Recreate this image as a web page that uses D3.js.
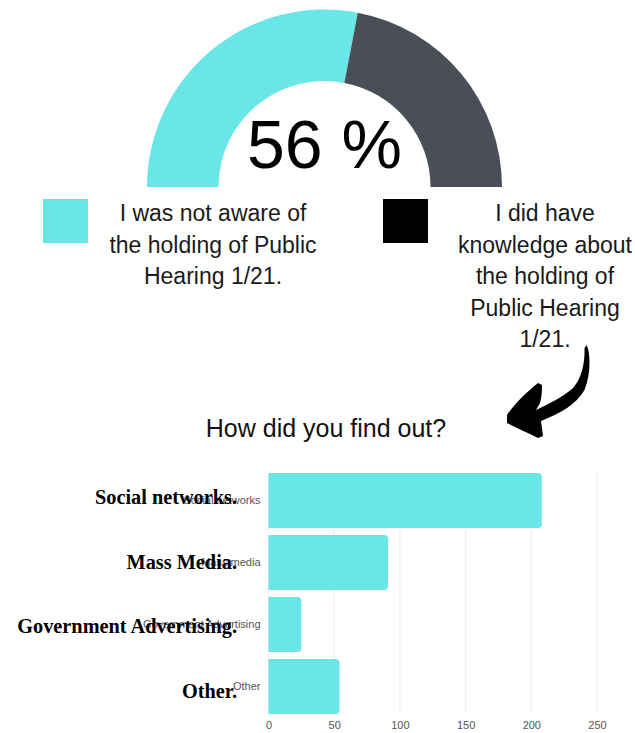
<!DOCTYPE html>
<html>
<head>
<meta charset="utf-8">
<script src="https://cdn.jsdelivr.net/npm/d3@7"></script>
<style>
  html, body { margin: 0; padding: 0; background: #ffffff; }
  svg { display: block; }
</style>
</head>
<body>
<svg id="chart" width="635" height="733"></svg>
<script>
// Gauge: share of respondents who did / did not know about the hearing
const gaugeKeys = ["unaware", "aware"];
const gaugeValues = [56, 44];
const gaugeText = "56 %";
const legendTexts = [
  ["I was not aware of", "the holding of Public", "Hearing 1/21."],
  ["I did have", "knowledge about", "the holding of", "Public Hearing", "1/21."]
];

// Bar chart: how the informed respondents found out
const chartTitle = "How did you find out?";
const categories = ["Social networks", "Mass media", "Government Advertising", "Other"];
const counts = [208, 91, 25, 54];
const captions = ["Social networks.", "Mass Media.", "Government Advertising.", "Other."];
const xTicks = [0, 50, 100, 150, 200, 250];

const CYAN = "#6be6e8";
const DARK = "#4a4f57";

const svg = d3.select("#chart");

// ---- half-donut gauge ----
const gauge = svg.append("g").attr("transform", "translate(324.5,187)");
const pie = d3.pie().sort(null).startAngle(-Math.PI / 2).endAngle(Math.PI / 2);
const arc = d3.arc().innerRadius(106).outerRadius(177.5);
const gaugeColor = d3.scaleOrdinal().domain(gaugeKeys).range([CYAN, DARK]);
gauge.selectAll("path")
  .data(pie(gaugeValues))
  .join("path")
  .attr("d", arc)
  .attr("fill", (d, i) => gaugeColor(gaugeKeys[i]));
gauge.append("text")
  .attr("x", 0).attr("y", -19)
  .attr("text-anchor", "middle")
  .attr("font-family", "'Liberation Sans', Arial, sans-serif")
  .attr("font-size", 68)
  .attr("fill", "#000")
  .text(gaugeText);

// ---- legend ----
const legendSwatch = ["#6be6e8", "#000000"];
const legendItems = svg.selectAll("g.legend")
  .data(legendTexts)
  .join("g")
  .attr("class", "legend")
  .attr("transform", (d, i) => `translate(${i === 0 ? 43 : 383},199)`);
legendItems.append("rect")
  .attr("width", 45).attr("height", 44)
  .attr("fill", (d, i) => legendSwatch[i]);
legendItems.append("text")
  .attr("text-anchor", "middle")
  .attr("font-family", "'Liberation Sans', Arial, sans-serif")
  .attr("font-size", 23)
  .attr("fill", "#1a1a1a")
  .selectAll("tspan")
  .data(d => d)
  .join("tspan")
  .attr("x", function () { return d3.select(this.parentNode).datum() === legendTexts[0] ? 170 : 162; })
  .attr("y", (d, i) => 22 + i * 31.5)
  .text(d => d);

// ---- curved arrow pointing at the question ----
svg.append("path")
  .attr("d", "M586.7,345 C591,355 590.5,375 584.5,390 C576,405 560,413 541,421 L543,436 L538,438 C528,433 516,428 507,423 L507,415 C515,403 528,391 538,383 L542,385 C542,390 542,396 540,403 L536,410 C548,404 562,398 573,388 C582,378 585,362 584.5,348 Z")
  .attr("fill", "#000");

// ---- title ----
svg.append("text")
  .attr("x", 326).attr("y", 437)
  .attr("text-anchor", "middle")
  .attr("font-family", "'Liberation Sans', Arial, sans-serif")
  .attr("font-size", 25)
  .attr("fill", "#111")
  .text(chartTitle);

// ---- horizontal bar chart ----
const x = d3.scaleLinear().domain([0, 250]).range([268.5, 597]);
const y = d3.scaleBand().domain(categories).range([473, 714]).paddingInner(0.113);

// grid
svg.append("g")
  .selectAll("line")
  .data(xTicks)
  .join("line")
  .attr("x1", d => x(d)).attr("x2", d => x(d))
  .attr("y1", 473).attr("y2", 714)
  .attr("stroke", "#ececec")
  .attr("stroke-width", 1);

// bars with rounded right end
const r = 4;
svg.append("g")
  .selectAll("path")
  .data(categories.map((c, i) => ({ c, v: counts[i] })))
  .join("path")
  .attr("fill", CYAN)
  .attr("d", d => {
    const x0 = x(0), x1 = x(d.v), y0 = y(d.c), h = y.bandwidth();
    return `M${x0},${y0} H${x1 - r} Q${x1},${y0} ${x1},${y0 + r} V${y0 + h - r} Q${x1},${y0 + h} ${x1 - r},${y0 + h} H${x0} Z`;
  });

// x axis labels
const xAxis = d3.axisBottom(x).tickValues(xTicks).tickSize(0).tickPadding(0);
const xg = svg.append("g").attr("transform", "translate(0,721)").call(xAxis);
xg.select(".domain").remove();
xg.selectAll("text")
  .attr("font-family", "'Liberation Sans', Arial, sans-serif")
  .attr("font-size", 11)
  .attr("fill", "#555");

// small category labels
const yAxis = d3.axisLeft(y).tickSize(0).tickPadding(8);
const yg = svg.append("g").attr("transform", `translate(${x(0)},0)`).call(yAxis);
yg.select(".domain").remove();
yg.selectAll("text")
  .attr("font-family", "'Liberation Sans', Arial, sans-serif")
  .attr("font-size", 11)
  .attr("fill", "#555");

// bold serif captions laid over the category labels
const capY = d3.scalePoint().domain(categories).range([504, 698]);
svg.append("g")
  .selectAll("text")
  .data(categories.map((c, i) => ({ c, t: captions[i] })))
  .join("text")
  .attr("x", 237)
  .attr("y", d => capY(d.c))
  .attr("text-anchor", "end")
  .attr("font-family", "'Liberation Serif', 'Times New Roman', serif")
  .attr("font-weight", "bold")
  .attr("font-size", 20.3)
  .attr("fill", "#000")
  .text(d => d.t);
</script>
</body>
</html>
